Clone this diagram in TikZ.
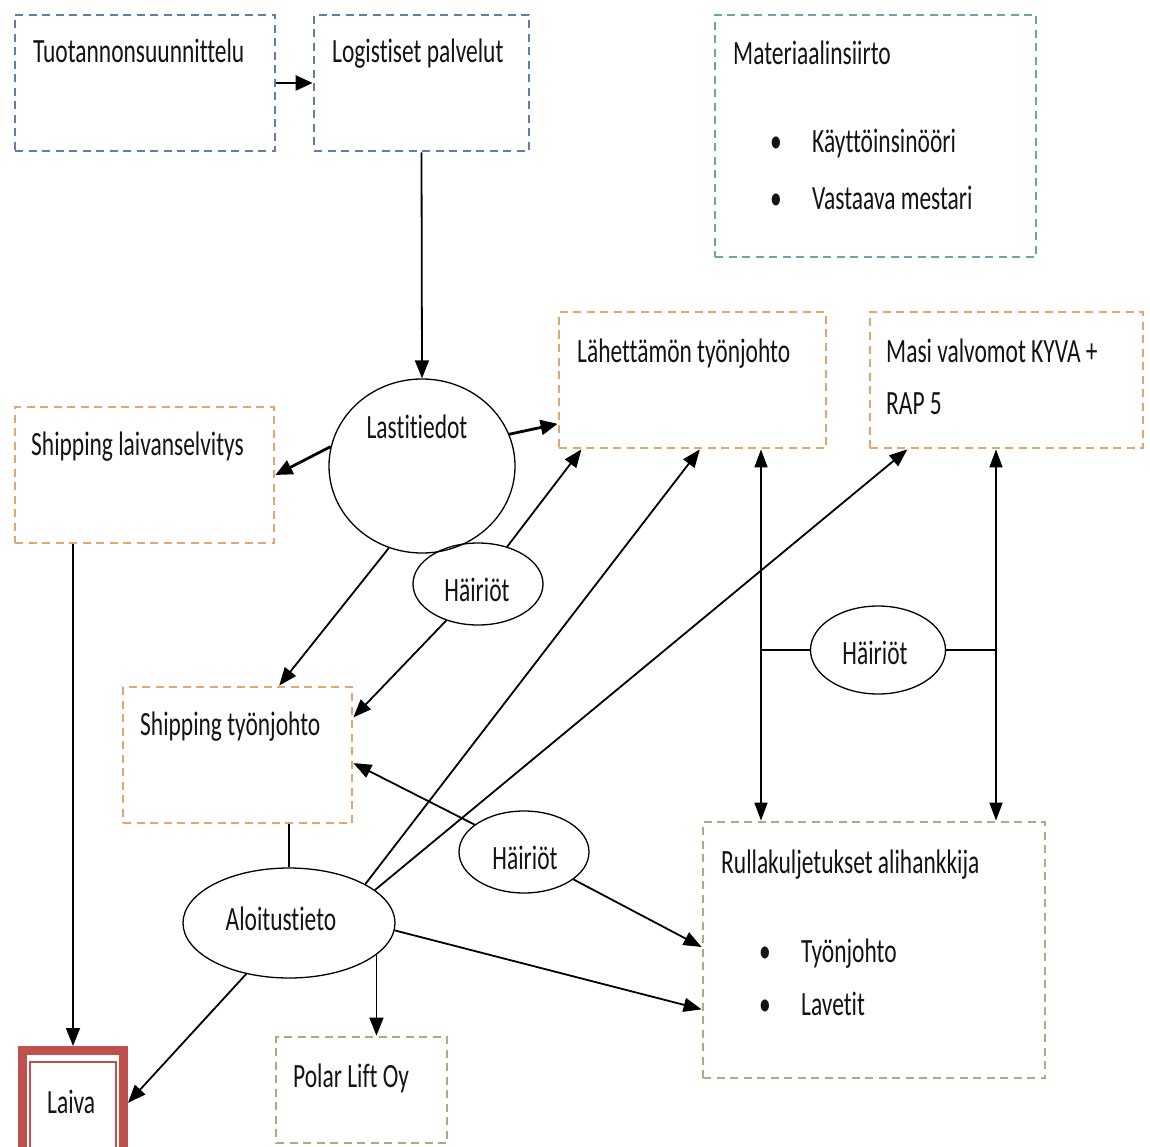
\documentclass[tikz,border=0pt]{standalone}
\usepackage{fontspec}
\setmainfont{Carlito}[FakeStretch=0.69,Ligatures=NoCommon]
\usetikzlibrary{arrows.meta,shapes.geometric}
\definecolor{bluedash}{RGB}{95,127,168}
\definecolor{tealdash}{RGB}{110,162,172}
\definecolor{orangedash}{RGB}{228,165,110}
\definecolor{greendash}{RGB}{172,172,132}
\definecolor{laivared}{RGB}{192,80,77}
\definecolor{txtcol}{RGB}{20,20,20}
\tikzset{
  dbox/.style={draw=#1, line width=2.8pt, dash pattern=on 8pt off 5.5pt, rectangle, inner sep=0pt},
  ell/.style={draw=black, line width=1.3pt, ellipse, inner sep=0pt},
  txt/.style={inner sep=0pt, text=txtcol, font=\fontsize{34}{40}\selectfont},
  conn/.style={draw=black, line width=1.8pt, -{Triangle[length=18pt,width=14pt]}},
  connthick/.style={draw=black, line width=2.8pt, -{Triangle[length=17pt,width=15pt]}},
  both/.style={draw=black, line width=1.6pt, {Triangle[length=18pt,width=13pt]}-{Triangle[length=18pt,width=13pt]}},
  plain/.style={draw=black, line width=1.6pt}
}
\begin{document}
\begin{tikzpicture}[x=1pt,y=-1pt]
\clip (0,0) rectangle (1150,1147);
\fill[white] (0,0) rectangle (1150,1147);
% boxes
\node[dbox=bluedash, minimum width=260pt, minimum height=136pt] (tuot) at (145,83) {};
\node[dbox=bluedash, minimum width=215pt, minimum height=136pt] (logi) at (421.5,83) {};
\node[dbox=tealdash, minimum width=321pt, minimum height=242pt] (mat) at (875.5,136) {};
\node[dbox=orangedash, minimum width=267pt, minimum height=136pt] (lah) at (692.5,380) {};
\node[dbox=orangedash, minimum width=273pt, minimum height=136pt] (masi) at (1006.5,380) {};
\node[dbox=orangedash, minimum width=259pt, minimum height=136pt] (slaiv) at (144.5,475) {};
\node[dbox=orangedash, minimum width=229pt, minimum height=136pt] (styo) at (237.5,755) {};
\node[dbox=greendash, minimum width=342pt, minimum height=256pt] (rulla) at (874,950) {};
\node[dbox=greendash, minimum width=171pt, minimum height=106pt] (polar) at (361.5,1090) {};
\node[draw=laivared, line width=9pt, rectangle, inner sep=0pt, minimum width=101pt, minimum height=128pt] (laiva) at (73,1114.5) {};
\node[draw=laivared, line width=1.5pt, rectangle, inner sep=0pt, minimum width=86pt, minimum height=98pt] (laivain) at (73,1111) {};
% ellipses
\node[ell, minimum width=186pt, minimum height=174pt] (last) at (422,466) {};
\node[ell, minimum width=130pt, minimum height=82pt] (h1) at (478,584) {};
\node[ell, minimum width=135pt, minimum height=88pt] (h2) at (878,650) {};
\node[ell, minimum width=130pt, minimum height=82pt] (h3) at (524,852) {};
\node[ell, minimum width=212pt, minimum height=110pt] (alo) at (289,923) {};
% texts
\node[txt, anchor=base west] (ttuot) at (33,63) {Tuotannonsuunnittelu};
\node[txt, anchor=base west] (tlogi) at (332,63) {Logistiset palvelut};
\node[txt, anchor=base west] (tmat) at (733,65) {Materiaalinsiirto};
\node[txt, anchor=base west] (tmatb1) at (770,153) {•};
\node[txt, anchor=base west] (tmatb2) at (770,210) {•};
\node[txt, anchor=base west] (tmat1) at (812,153) {Käyttöinsinööri};
\node[txt, anchor=base west] (tmat2) at (812,210) {Vastaava mestari};
\node[txt, anchor=base west] (tlah) at (577,362) {Lähettämön työnjohto};
\node[txt, anchor=base west] (tmasi1) at (886,362) {Masi valvomot KYVA +};
\node[txt, anchor=base west] (tmasi2) at (886,414) {RAP 5};
\node[txt, anchor=base west] (tslaiv) at (31,455) {Shipping laivanselvitys};
\node[txt, anchor=base west] (tstyo) at (140,735) {Shipping työnjohto};
\node[txt, anchor=base west] (trulla) at (721,873) {Rullakuljetukset alihankkija};
\node[txt, anchor=base west] (trb1) at (759,962) {•};
\node[txt, anchor=base west] (trb2) at (759,1015) {•};
\node[txt, anchor=base west] (tr1) at (801,962) {Työnjohto};
\node[txt, anchor=base west] (tr2) at (801,1015) {Lavetit};
\node[txt, anchor=base west] (tpolar) at (293,1087) {Polar Lift Oy};
\node[txt, anchor=base west] (tlaiva) at (47,1113) {Laiva};
\node[txt, anchor=base] (tlast) at (417,438) {Lastitiedot};
\node[txt, anchor=base] (th1) at (477,601) {Häiriöt};
\node[txt, anchor=base] (th2) at (875,664) {Häiriöt};
\node[txt, anchor=base] (th3) at (525,869) {Häiriöt};
\node[txt, anchor=base] (talo) at (281,930) {Aloitustieto};
% helper columns
\coordinate (c1) at (761,650);
\coordinate (c2) at (996,650);
% connectors
\draw[connthick] (tuot.east) -- (logi.west);
\draw[conn] (logi.south) -- (last.north);
\draw[connthick] (last.168) -- (slaiv.east);
\draw[connthick] (last.20) -- (lah.198);
\draw[conn] (last.248) -- (styo.59);
\draw[conn] (h1.52) -- (lah.212);
\draw[conn] (h1.229) -- (styo.18);
\draw[conn] (alo.27) -- (lah.276);
\draw[conn] (alo.21) -- (masi.215);
\draw[both] (c1 |- lah.south) -- (c1 |- rulla.north);
\draw[both] (c2 |- masi.south) -- (c2 |- rulla.north);
\draw[plain] (c1) -- (h2.west);
\draw[plain] (h2.east) -- (c2);
\draw[conn] (h3.151) -- (styo.356);
\draw[conn] (h3.331) -- (rulla.179);
\draw[conn] (alo.356) -- (rulla.199);
\draw[plain] (alo.north) -- (alo.north |- styo.south);
\draw[conn] (alo.340) -- (alo.340 |- polar.north);
\draw[conn] (alo.230) -- (laiva.12);
\draw[conn] (laiva.north |- slaiv.south) -- (laiva.north);
\end{tikzpicture}
\end{document}
